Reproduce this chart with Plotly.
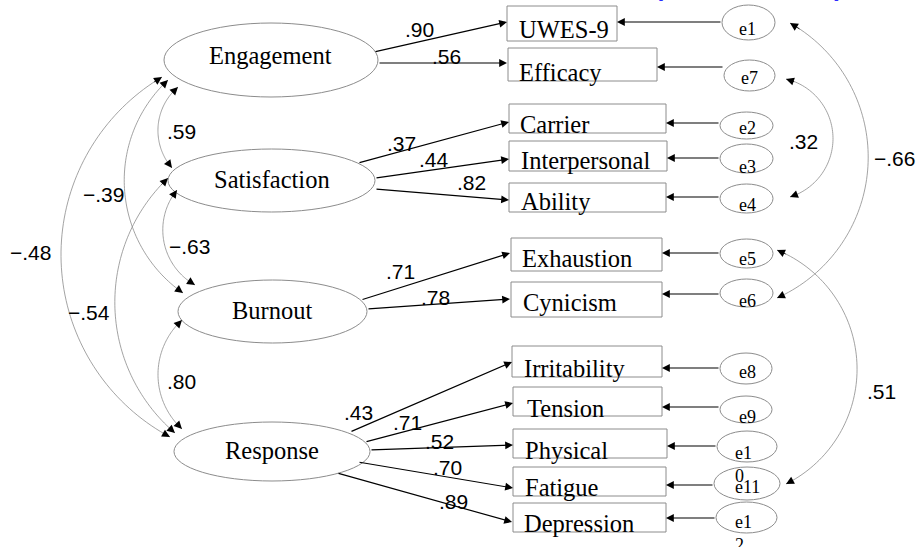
import numpy as np
import plotly.graph_objects as go

# ---------------- data ----------------
latent_names = ["Engagement", "Satisfaction", "Burnout", "Response"]
indicator_names = ["UWES-9", "Efficacy", "Carrier", "Interpersonal", "Ability",
                   "Exhaustion", "Cynicism", "Irritability", "Tension", "Physical",
                   "Fatigue", "Depression"]
indicator_factor = ["Engagement", "Engagement", "Satisfaction", "Satisfaction", "Satisfaction",
                    "Burnout", "Burnout", "Response", "Response", "Response", "Response", "Response"]
loadings = [".90", ".56", ".37", ".44", ".82", ".71", ".78", ".43", ".71", ".52", ".70", ".89"]
error_labels = ["e1", "e7", "e2", "e3", "e4", "e5", "e6", "e8", "e9", "e1<br>0", "e11", "e1<br>2"]
factor_corr_pairs = [("Engagement", "Satisfaction"), ("Satisfaction", "Burnout"),
                     ("Burnout", "Response"), ("Engagement", "Burnout"),
                     ("Satisfaction", "Response"), ("Engagement", "Response")]
factor_corr_values = [".59", "\u2212.63", ".80", "\u2212.39", "\u2212.54", "\u2212.48"]
error_corr_pairs = [("e7", "e4"), ("e1", "e6"), ("e5", "e11")]
error_corr_values = [".32", "\u2212.66", ".51"]

# ---------------- layout (pixel positions of the diagram) ----------------
W, H = 920, 547
latent_geom = {  # x0, x1, y0, y1
    "Engagement": (164, 378, 23, 97),
    "Satisfaction": (168, 375, 149, 212),
    "Burnout": (178, 367, 280, 343),
    "Response": (174, 370, 422, 481),
}
latent_text = [(270, 55.5), (272, 179.5), (272, 310.5), (272, 450.5)]
box_geom = [(507, 617, 6, 41), (508, 657, 48, 81), (509, 666, 104, 133), (509, 667, 141, 171),
            (509, 666, 183, 212), (511, 662, 238, 271), (511, 662, 282, 317), (512, 662, 346, 377),
            (513, 662, 387, 416), (513, 667, 429, 458), (513, 666, 467, 496), (513, 666, 503, 532)]
box_text = [(517, 29.5), (517, 72.5), (518, 124.5), (519, 160.5), (519, 201.5), (520, 258.5),
            (521, 302.5), (522, 368.5), (525, 408.5), (523, 450.5), (523, 487.5), (522, 523.5)]
load_arrow = [((374, 52), (507, 22)), ((378, 63), (507, 63)), ((358, 163), (509, 122)),
              ((375, 178), (509, 159)), ((375, 189), (509, 200)), ((361, 300), (510, 253)),
              ((367, 309), (510, 299)), ((350, 432), (512, 362)), ((365, 442), (513, 403)),
              ((370, 450), (513, 445)), ((358, 462), (513, 488)), ((337, 473), (512, 522))]
load_text = [(419, 29), (446, 56), (401, 143), (434, 159), (471, 182), (400, 271), (435, 297),
             (358, 412), (407, 422), (439, 441), (447, 467), (453, 501)]
err_geom = [(722, 775, 5, 40), (724, 775, 60, 91), (720, 773, 112, 139), (720, 773, 144, 173),
            (720, 773, 184, 213), (720, 773, 239, 268), (720, 773, 279, 307), (720, 772, 353, 384),
            (720, 772, 396, 423), (717, 777, 431, 462), (714, 780, 467, 500), (716, 777, 502, 533)]
err_text = [(747, 28.5), (749, 77.5), (747, 128), (747, 166.5), (747, 204.5), (747, 258.5),
            (747, 300.5), (747, 371.5), (747, 416.5), (743, 464), (747, 486.5), (743, 533)]
err_arrow_y = [22, 67, 123, 158, 197, 253, 294, 368, 407, 446, 485, 518]
factor_arc = [((178, 87), (158, 128), (172, 168)),
              ((177, 190), (163, 235), (195, 285)),
              ((182, 320), (158, 375), (182, 429)),
              ((168, 80), (125, 195), (183, 293)),
              ((168, 178), (115, 310), (175, 433)),
              ((162, 77), (61, 255), (170, 437))]
factor_corr_text = [(181, 131), (189, 246), (181, 381), (103, 194), (89, 312), (30, 252)]
error_arc = [((786, 79), (833, 138), (790, 197)),
             ((790, 23), (868, 165), (777, 298)),
             ((777, 250), (857, 365), (786, 484))]
error_corr_text = [(803, 141), (894, 158), (881, 391)]

SERIF = "Liberation Serif, Times New Roman, serif"
SANS = "Liberation Sans, Arial, sans-serif"
GRAY = "#8c8c8c"

shapes, annotations = [], []


def circle3(a, b, c):
    ax, ay = a; bx, by = b; cx, cy = c
    d = 2 * (ax * (by - cy) + bx * (cy - ay) + cx * (ay - by))
    ux = ((ax**2 + ay**2) * (by - cy) + (bx**2 + by**2) * (cy - ay) + (cx**2 + cy**2) * (ay - by)) / d
    uy = ((ax**2 + ay**2) * (cx - bx) + (bx**2 + by**2) * (ax - cx) + (cx**2 + cy**2) * (bx - ax)) / d
    return ux, uy, np.hypot(ax - ux, ay - uy)


def arc_pts(p0, pm, p1, n=80):
    ux, uy, r = circle3(p0, pm, p1)
    a0 = np.arctan2(p0[1] - uy, p0[0] - ux)
    am = np.arctan2(pm[1] - uy, pm[0] - ux)
    a1 = np.arctan2(p1[1] - uy, p1[0] - ux)
    ccw1 = (a1 - a0) % (2 * np.pi)
    ccwm = (am - a0) % (2 * np.pi)
    if ccwm <= ccw1:
        angs = a0 + np.linspace(0, ccw1, n)
    else:
        angs = a0 - np.linspace(0, (2 * np.pi - ccw1), n)
    return ux + r * np.cos(angs), uy + r * np.sin(angs)


def arrow(tail, tip, color="black", width=1.2, size=1.3):
    annotations.append(dict(x=tip[0], y=tip[1], ax=tail[0], ay=tail[1], xref="x", yref="y",
                            axref="x", ayref="y", text="", showarrow=True, arrowhead=2,
                            arrowsize=size, arrowwidth=width, arrowcolor=color, standoff=0))


def label(x, y, text, font, size, xanchor="center", align="center", color="black"):
    annotations.append(dict(x=x, y=y, xref="x", yref="y", text=text, showarrow=False,
                            xanchor=xanchor, yanchor="middle", align=align,
                            font=dict(family=font, size=size, color=color)))


def curved_double_arrow(p0, pm, p1, value, tpos):
    xs, ys = arc_pts(p0, pm, p1)
    path = "M " + " L ".join(f"{x:.2f},{y:.2f}" for x, y in zip(xs, ys))
    shapes.append(dict(type="path", path=path, xref="x", yref="y",
                       line=dict(color=GRAY, width=0.8), layer="above"))
    d = np.cumsum(np.r_[0, np.hypot(np.diff(xs), np.diff(ys))])
    k0 = np.searchsorted(d, 9)
    k1 = np.searchsorted(d, d[-1] - 9)
    arrow((xs[k0], ys[k0]), (xs[0], ys[0]), width=0.8, size=2.0)
    arrow((xs[k1], ys[k1]), (xs[-1], ys[-1]), width=0.8, size=2.0)
    label(tpos[0], tpos[1], value, SANS, 21)


# latent factors
for name, (tx, ty) in zip(latent_names, latent_text):
    x0, x1, y0, y1 = latent_geom[name]
    shapes.append(dict(type="circle", x0=x0, x1=x1, y0=y0, y1=y1, xref="x", yref="y",
                       line=dict(color=GRAY, width=1), fillcolor="rgba(0,0,0,0)"))
    label(tx, ty, name, SERIF, 24.5)

# observed indicators, loadings and errors
for i, name in enumerate(indicator_names):
    x0, x1, y0, y1 = box_geom[i]
    shapes.append(dict(type="rect", x0=x0, x1=x1, y0=y0, y1=y1, xref="x", yref="y",
                       line=dict(color=GRAY, width=1), fillcolor="rgba(0,0,0,0)"))
    label(box_text[i][0], box_text[i][1], name, SERIF, 24.5, xanchor="left")
    arrow(load_arrow[i][0], load_arrow[i][1])
    label(load_text[i][0], load_text[i][1], loadings[i], SANS, 21)
    ex0, ex1, ey0, ey1 = err_geom[i]
    shapes.append(dict(type="circle", x0=ex0, x1=ex1, y0=ey0, y1=ey1, xref="x", yref="y",
                       line=dict(color=GRAY, width=1), fillcolor="rgba(0,0,0,0)"))
    label(err_text[i][0], err_text[i][1], error_labels[i], SERIF, 18, align="left")
    arrow((ex0, err_arrow_y[i]), (x1, err_arrow_y[i]))

# factor correlations
for (a, b), v, arc, tp in zip(factor_corr_pairs, factor_corr_values, factor_arc, factor_corr_text):
    curved_double_arrow(arc[0], arc[1], arc[2], v, tp)

# error correlations
for (a, b), v, arc, tp in zip(error_corr_pairs, error_corr_values, error_arc, error_corr_text):
    curved_double_arrow(arc[0], arc[1], arc[2], v, tp)

# cut-off blue heading brackets at the very top
annotations.append(dict(x=657, y=3, xref="x", yref="y", text="(", showarrow=False,
                        xanchor="center", yanchor="bottom",
                        font=dict(family=SANS, size=40, color="#2a2aff")))
annotations.append(dict(x=840, y=3, xref="x", yref="y", text=")", showarrow=False,
                        xanchor="center", yanchor="bottom",
                        font=dict(family=SANS, size=40, color="#2a2aff")))

fig = go.Figure()
fig.add_trace(go.Scatter(x=[0], y=[0], mode="markers", marker=dict(opacity=0),
                         hoverinfo="skip", showlegend=False))
fig.update_layout(
    width=W, height=H, margin=dict(l=0, r=0, t=0, b=0),
    paper_bgcolor="white", plot_bgcolor="white", showlegend=False,
    xaxis=dict(range=[0, W], visible=False, fixedrange=True),
    yaxis=dict(range=[H, 0], visible=False, fixedrange=True),
    shapes=shapes, annotations=annotations,
)
fig.write_html("out.html", config={"displayModeBar": False},
               post_script="document.body.style.margin='0';document.body.style.overflow='hidden';")
